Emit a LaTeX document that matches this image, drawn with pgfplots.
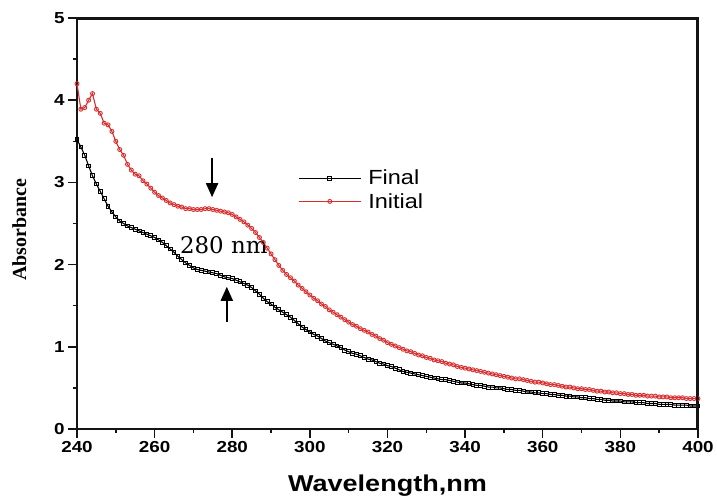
\documentclass[border=0pt]{standalone}
\usepackage{pgfplots}
\pgfplotsset{compat=1.18}
\usepackage{pgfplotstable}
\usepackage{fontspec}
\usetikzlibrary{arrows.meta}
\setmainfont{Liberation Serif}
\newfontfamily\ticksf{Liberation Sans}[FakeStretch=1.18]
\newfontfamily\legsf{Liberation Sans}[FakeStretch=1.15]
\newfontfamily\annot{DejaVu Serif}
\definecolor{initred}{RGB}{218,45,45}
\definecolor{axgray}{RGB}{20,20,20}

% wavelength (nm), Final, Initial
\pgfplotstableread{
wl final initial
240 3.52 4.20
241 3.43 3.89
242 3.33 3.91
243 3.20 4.00
244 3.08 4.08
245 2.98 3.89
246 2.89 3.84
247 2.80 3.72
248 2.71 3.70
249 2.64 3.62
250 2.58 3.50
251 2.53 3.40
252 2.50 3.33
253 2.47 3.22
254 2.45 3.15
255 2.43 3.10
256 2.41 3.08
257 2.39 3.02
258 2.37 2.98
259 2.35 2.93
260 2.33 2.88
261 2.30 2.84
262 2.27 2.81
263 2.23 2.78
264 2.19 2.75
265 2.15 2.73
266 2.10 2.71
267 2.06 2.70
268 2.02 2.68
269 1.99 2.68
270 1.96 2.67
271 1.94 2.67
272 1.93 2.67
273 1.92 2.68
274 1.91 2.68
275 1.90 2.67
276 1.89 2.66
277 1.87 2.65
278 1.85 2.64
279 1.84 2.63
280 1.83 2.61
281 1.81 2.58
282 1.79 2.55
283 1.77 2.52
284 1.75 2.48
285 1.72 2.44
286 1.68 2.39
287 1.64 2.33
288 1.59 2.27
289 1.55 2.20
290 1.52 2.13
291 1.48 2.06
292 1.45 1.99
293 1.42 1.93
294 1.39 1.88
295 1.36 1.84
296 1.32 1.80
297 1.28 1.75
298 1.24 1.71
299 1.21 1.67
300 1.18 1.63
301 1.15 1.59
302 1.13 1.56
303 1.10 1.52
304 1.07 1.49
305 1.05 1.45
306 1.03 1.42
307 1.01 1.39
308 0.99 1.36
309 0.96 1.33
310 0.94 1.30
311 0.92 1.27
312 0.91 1.25
313 0.89 1.22
314 0.87 1.20
315 0.85 1.18
316 0.84 1.15
317 0.82 1.13
318 0.80 1.10
319 0.79 1.08
320 0.77 1.05
321 0.76 1.03
322 0.74 1.01
323 0.72 0.99
324 0.70 0.97
325 0.69 0.95
326 0.68 0.94
327 0.67 0.92
328 0.66 0.90
329 0.65 0.89
330 0.64 0.87
331 0.63 0.86
332 0.62 0.84
333 0.61 0.83
334 0.60 0.82
335 0.60 0.80
336 0.59 0.79
337 0.58 0.78
338 0.57 0.76
339 0.56 0.75
340 0.56 0.74
341 0.55 0.73
342 0.54 0.72
343 0.53 0.71
344 0.53 0.70
345 0.52 0.69
346 0.51 0.68
347 0.51 0.67
348 0.50 0.66
349 0.50 0.65
350 0.49 0.64
351 0.48 0.63
352 0.48 0.62
353 0.47 0.61
354 0.47 0.61
355 0.46 0.60
356 0.45 0.59
357 0.45 0.58
358 0.44 0.57
359 0.44 0.57
360 0.43 0.56
361 0.43 0.55
362 0.42 0.54
363 0.42 0.54
364 0.41 0.53
365 0.41 0.52
366 0.40 0.51
367 0.40 0.51
368 0.39 0.50
369 0.39 0.49
370 0.38 0.49
371 0.38 0.48
372 0.37 0.48
373 0.37 0.47
374 0.36 0.46
375 0.36 0.46
376 0.35 0.45
377 0.35 0.45
378 0.34 0.44
379 0.34 0.44
380 0.34 0.43
381 0.33 0.43
382 0.33 0.42
383 0.33 0.42
384 0.32 0.41
385 0.32 0.41
386 0.32 0.41
387 0.31 0.40
388 0.31 0.40
389 0.31 0.40
390 0.30 0.39
391 0.30 0.39
392 0.30 0.39
393 0.30 0.38
394 0.29 0.38
395 0.29 0.38
396 0.29 0.38
397 0.29 0.37
398 0.28 0.37
399 0.28 0.37
400 0.28 0.37
}\spectra

\begin{document}
\begin{tikzpicture}
\begin{axis}[
  scale only axis,
  width=621bp, height=411bp,
  xmin=240, xmax=400, ymin=0, ymax=5,
  xtick={240,260,...,400}, ytick={0,1,...,5},
  minor tick num=1,
  axis lines=box,
  tick align=outside,
  tick pos=left,
  major tick length=9bp, minor tick length=4bp,
  every tick/.style={axgray, line width=1.5bp},
  axis line style={axgray, line width=2bp},
  /pgf/number format/assume math mode=true,
  ticklabel style={font=\ticksf\bfseries\fontsize{16}{16}\selectfont},
  xlabel={Wavelength,nm},
  xlabel style={font=\ticksf\bfseries\fontsize{23}{23}\selectfont,
    at={(axis description cs:0.5,-0.153)}, anchor=base},
  ylabel={Absorbance},
  ylabel style={font=\bfseries\fontsize{20}{20}\selectfont,
    at={(axis description cs:-0.0821,0.484)}, anchor=base},
  legend cell align=left,
  legend style={draw=none, fill=none, inner sep=0pt,
    at={(axis description cs:0.356,0.638)}, anchor=north west,
    font=\legsf\fontsize{20.5}{20.5}\selectfont, row sep=1bp,
    nodes={inner sep=3bp}},
  legend image code/.code={
    \draw[mark repeat=2,mark phase=2] plot coordinates {(0bp,0bp) (31bp,0bp) (62bp,0bp)};
    \path (66bp,0bp);},
]
\addplot[black, line width=1.1bp, mark=square, mark size=1.9bp,
  mark options={line width=0.9bp, fill=white}] table[x=wl, y=final] {\spectra};
\addlegendentry{Final}
\addplot[initred, line width=1.1bp, mark=o, mark size=2bp,
  mark options={line width=0.9bp, fill=white}] table[x=wl, y=initial] {\spectra};
\addlegendentry{Initial}

\draw[line width=2bp, -{Triangle[width=12bp,length=14bp]}]
  (axis cs:274.8,3.30) -- (axis cs:274.8,2.82);
\draw[line width=2bp, -{Triangle[width=12bp,length=14bp]}]
  (axis cs:278.6,1.30) -- (axis cs:278.6,1.73);
\node[font=\annot\fontsize{23}{23}\selectfont, anchor=base west, inner sep=0pt]
  at (axis cs:266.5,2.13) {280 nm};
\end{axis}
\draw[axgray, line width=2bp, line cap=rect]
  ([yshift=-1bp]current axis.north west) -- ([xshift=-1bp,yshift=-1bp]current axis.north east)
  -- ([xshift=-1bp]current axis.south east);
\path ([xshift=-77bp,yshift=-68bp]current axis.south west)
  rectangle ([xshift=19bp,yshift=18bp]current axis.north east);
\end{tikzpicture}
\end{document}
